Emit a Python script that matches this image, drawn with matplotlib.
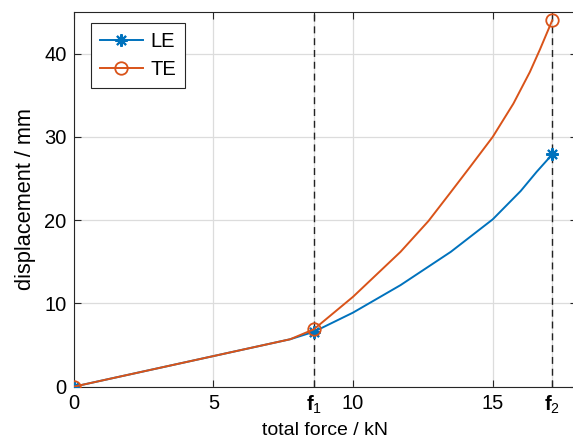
import matplotlib
matplotlib.use("Agg")
import matplotlib.pyplot as plt

plt.rcParams["font.family"] = ["Liberation Sans", "DejaVu Sans"]
plt.rcParams["mathtext.fontset"] = "custom"
plt.rcParams["mathtext.rm"] = "Liberation Sans"
plt.rcParams["mathtext.bf"] = "Liberation Sans:bold"
plt.rcParams["mathtext.it"] = "Liberation Sans:italic"

# force levels
f1 = 8.6
f2 = 17.13

# leading edge / trailing edge displacement
force_le = [0, 7.75, f1, 10, 11.7, 13.5, 15, 16.0, 16.57, f2]
disp_le = [0, 5.7, 6.6, 8.9, 12.2, 16.2, 20.1, 23.5, 25.8, 27.9]

force_te = [0, 7.75, f1, 10, 11.7, 12.7, 13.46, 14.19, 15, 15.74, 16.33, 16.69, f2]
disp_te = [0, 5.7, 6.9, 10.8, 16.2, 19.9, 23.2, 26.4, 30.0, 34.0, 37.8, 40.5, 44.0]

xticks = [0, 5, f1, 10, 15, f2]
xticklabels = ["0", "5", r"$\mathbf{f}_1$", "10", "15", r"$\mathbf{f}_2$"]
yticks = [0, 10, 20, 30, 40]

blue = "#0072BD"
orange = "#D95319"
axcol = "#262626"

fig = plt.figure(figsize=(5.73, 4.44), dpi=100)
ax = fig.add_axes([0.1285, 0.129, 0.8777, 0.844])

ax.plot(force_le, disp_le, color=blue, lw=1.4, marker=(8, 2, 0), ms=9,
        mew=1.5, markevery=[0, 2, len(force_le) - 1], label="LE", zorder=3)
ax.plot(force_te, disp_te, color=orange, lw=1.4, marker="o", ms=9,
        mfc="none", mew=1.3, markevery=[0, 2, len(force_te) - 1],
        label="TE", zorder=3)

for f in (f1, f2):
    ax.axvline(f, color="#222222", ls=(0, (5, 3.5)), lw=1.0, zorder=2)

ax.set_xlim(0, 18)
ax.set_ylim(0, 45)
ax.set_xticks(xticks)
ax.set_xticklabels(xticklabels)
ax.set_yticks(yticks)

ax.grid(True, color="#dcdcdc", lw=0.9)
ax.set_axisbelow(True)
ax.tick_params(direction="in", top=True, right=True, length=5,
               width=0.8, color=axcol, labelsize=14.5, pad=5)
for s in ax.spines.values():
    s.set_color(axcol)
    s.set_linewidth(0.8)

ax.set_xlabel("total force / kN", fontsize=14, labelpad=4)
ax.set_ylabel("displacement / mm", fontsize=15.7, labelpad=6)

leg = ax.legend(loc="upper left", fontsize=14.5, fancybox=False,
                edgecolor=axcol, framealpha=1, handlelength=2.1,
                borderpad=0.45, labelspacing=0.45, handletextpad=0.4,
                borderaxespad=0, bbox_to_anchor=(0.035, 0.970))
leg.get_frame().set_linewidth(0.8)

fig.savefig("out.png", dpi=100)
